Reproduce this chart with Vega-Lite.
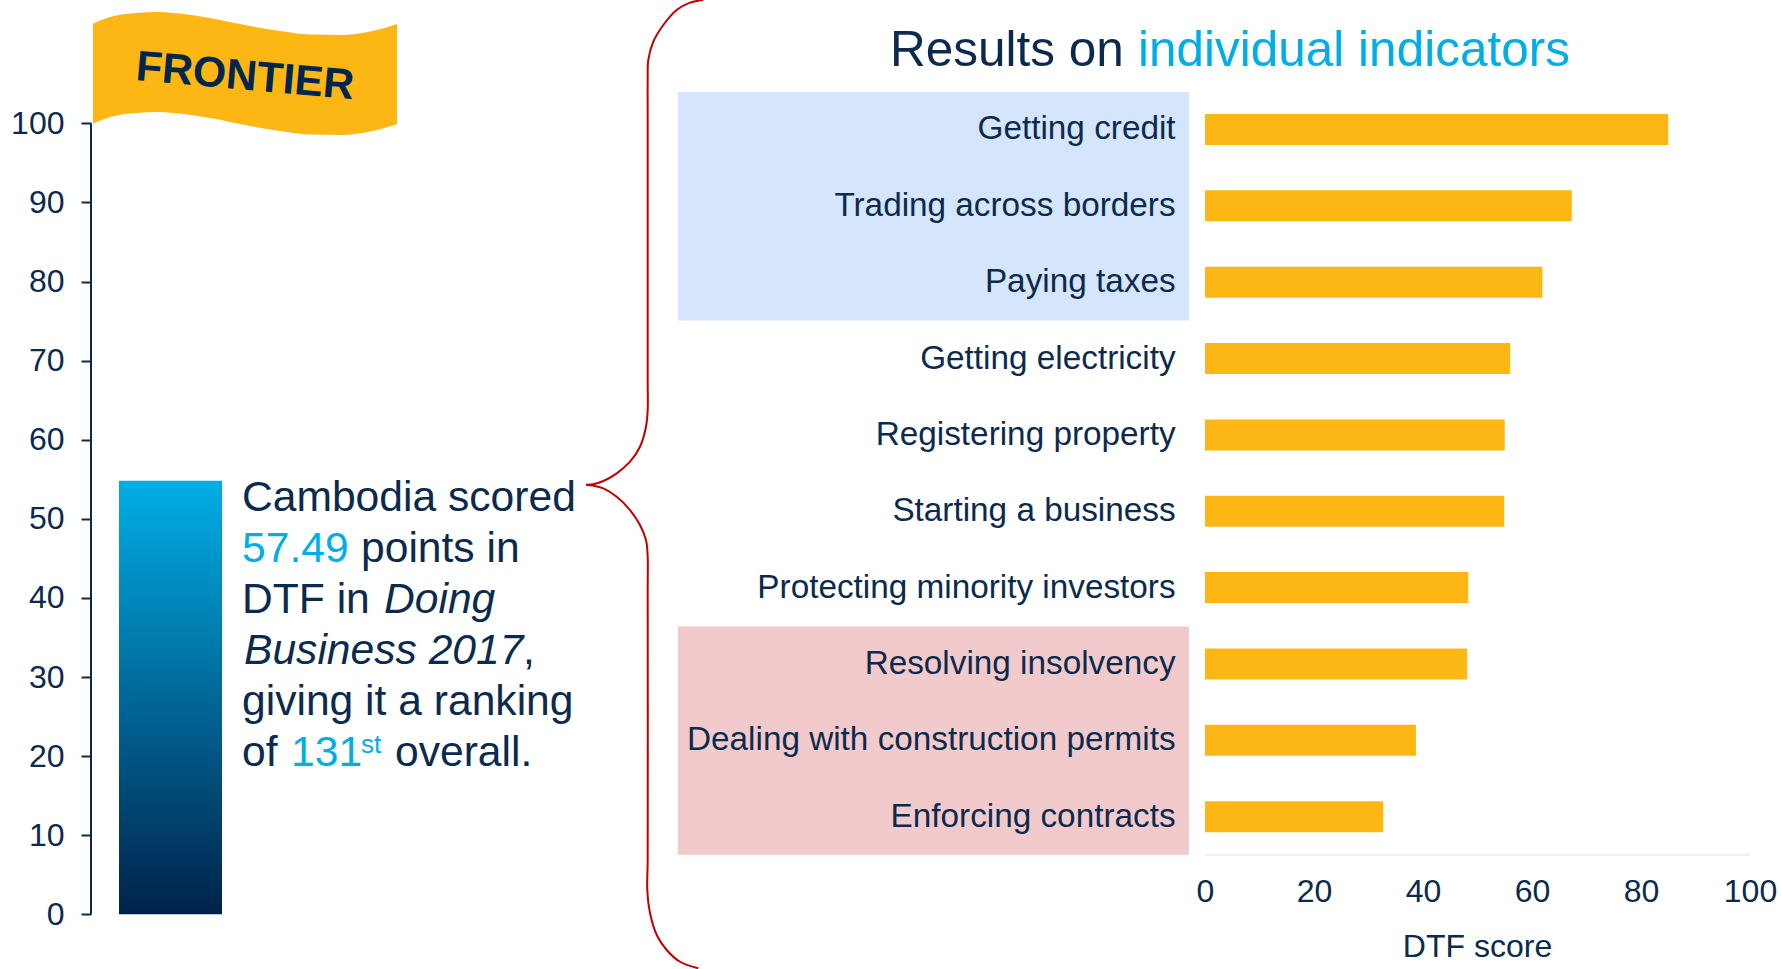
{
  "$schema": "https://vega.github.io/schema/vega-lite/v6.json",
  "padding": 0,
  "background": "white",
  "spacing": 0,
  "bounds": "flush",
  "config": {"view": {"stroke": null}, "font": "Liberation Sans", "concat": {"spacing": 0}},
  "datasets": {
    "flag": [
      {"pos": 93, "top": 112.6, "bottom": 99.96},
      {"pos": 110, "top": 113.44, "bottom": 100.8},
      {"pos": 130, "top": 113.88, "bottom": 101.24},
      {"pos": 155, "top": 114.07, "bottom": 101.43},
      {"pos": 180, "top": 113.88, "bottom": 101.24},
      {"pos": 210, "top": 113.31, "bottom": 100.67},
      {"pos": 250, "top": 112.3, "bottom": 99.66},
      {"pos": 280, "top": 111.67, "bottom": 99.03},
      {"pos": 310, "top": 111.23, "bottom": 98.59},
      {"pos": 340, "top": 111.17, "bottom": 98.53},
      {"pos": 370, "top": 111.6, "bottom": 98.96},
      {"pos": 397, "top": 112.56, "bottom": 99.92}
    ],
    "scores": [
      {"indicator": "Getting credit", "rank": 1, "score": 85},
      {"indicator": "Trading across borders", "rank": 2, "score": 67.3},
      {"indicator": "Paying taxes", "rank": 3, "score": 61.9},
      {"indicator": "Getting electricity", "rank": 4, "score": 56},
      {"indicator": "Registering property", "rank": 5, "score": 55},
      {"indicator": "Starting a business", "rank": 6, "score": 54.9},
      {"indicator": "Protecting minority investors", "rank": 7, "score": 48.3},
      {"indicator": "Resolving insolvency", "rank": 8, "score": 48.1},
      {"indicator": "Dealing with construction permits", "rank": 9, "score": 38.7},
      {"indicator": "Enforcing contracts", "rank": 10, "score": 32.7}
    ],
    "brace": [
      {"part": "upper", "n": 1, "bx": -92.06, "br": -0.696},
      {"part": "upper", "n": 2, "bx": -94.5, "br": -0.661},
      {"part": "upper", "n": 3, "bx": -96.94, "br": -0.565},
      {"part": "upper", "n": 4, "bx": -99.39, "br": -0.369},
      {"part": "upper", "n": 5, "bx": -101.23, "br": -0.15},
      {"part": "upper", "n": 6, "bx": -102.15, "br": 0.09},
      {"part": "upper", "n": 7, "bx": -102.26, "br": 0.352},
      {"part": "upper", "n": 8, "bx": -102.26, "br": 0.876},
      {"part": "upper", "n": 9, "bx": -102.26, "br": 4.281},
      {"part": "upper", "n": 10, "bx": -102.26, "br": 4.674},
      {"part": "upper", "n": 11, "bx": -102.57, "br": 4.893},
      {"part": "upper", "n": 12, "bx": -103.67, "br": 5.155},
      {"part": "upper", "n": 13, "bx": -105.5, "br": 5.351},
      {"part": "upper", "n": 14, "bx": -107.94, "br": 5.503},
      {"part": "upper", "n": 15, "bx": -110.4, "br": 5.604},
      {"part": "upper", "n": 16, "bx": -112.3, "br": 5.647},
      {"part": "upper", "n": 17, "bx": -113.58, "br": 5.652},
      {"part": "lower", "n": 1, "bx": -113.58, "br": 5.652},
      {"part": "lower", "n": 2, "bx": -112.3, "br": 5.663},
      {"part": "lower", "n": 3, "bx": -110.4, "br": 5.7},
      {"part": "lower", "n": 4, "bx": -107.94, "br": 5.81},
      {"part": "lower", "n": 5, "bx": -105.5, "br": 5.984},
      {"part": "lower", "n": 6, "bx": -103.67, "br": 6.18},
      {"part": "lower", "n": 7, "bx": -102.57, "br": 6.377},
      {"part": "lower", "n": 8, "bx": -102.26, "br": 6.595},
      {"part": "lower", "n": 9, "bx": -102.26, "br": 7.031},
      {"part": "lower", "n": 10, "bx": -102.26, "br": 10.568},
      {"part": "lower", "n": 11, "bx": -102.33, "br": 10.961},
      {"part": "lower", "n": 12, "bx": -101.83, "br": 11.262},
      {"part": "lower", "n": 13, "bx": -100.6, "br": 11.55},
      {"part": "lower", "n": 14, "bx": -98.77, "br": 11.746},
      {"part": "lower", "n": 15, "bx": -96.33, "br": 11.9},
      {"part": "lower", "n": 16, "bx": -92.97, "br": 11.986}
    ]
  },
  "hconcat": [
    {
      "width": 580,
      "height": 969,
      "layer": [
        {
          "data": {"name": "flag"},
          "mark": {"type": "area", "color": "#FDB714", "interpolate": "monotone"},
          "encoding": {
            "x": {"field": "pos", "type": "quantitative", "scale": {"domain": [0, 580], "nice": false, "zero": false}, "axis": null},
            "y": {"field": "top", "type": "quantitative", "scale": {"domain": [-6.91, 115.59], "nice": false, "zero": false},
              "axis": {"values": [0,10,20,30,40,50,60,70,80,90,100], "title": null, "domain": false, "grid": false, "offset": -91, "tickSize": 10, "tickWidth": 2, "tickColor": "#0B2A4E", "labelFontSize": 32, "labelColor": "#0B2A4E", "labelPadding": 17, "labelFont": "Liberation Sans"}},
            "y2": {"field": "bottom"}
          }
        },
        {
          "data": {"values": [{"pos": 245, "value": 105.9, "label": "FRONTIER"}]},
          "mark": {"type": "text", "font": "Liberation Sans", "fontWeight": "bold", "fontSize": 42.8, "angle": 5, "color": "#00264D", "align": "center", "baseline": "middle"},
          "encoding": {
            "x": {"field": "pos", "type": "quantitative"},
            "y": {"field": "value", "type": "quantitative"},
            "text": {"field": "label"}
          }
        },
        {
          "data": {"values": [{"pos": 91, "from": 0, "to": 100}]},
          "mark": {"type": "rule", "color": "#0B2A4E", "strokeWidth": 2},
          "encoding": {
            "x": {"field": "pos", "type": "quantitative"},
            "y": {"field": "from", "type": "quantitative"},
            "y2": {"field": "to"}
          }
        },
        {
          "data": {"values": [{"pos": 119, "pos2": 222, "from": 0, "to": 54.8}]},
          "mark": {"type": "rect", "color": {"gradient": "linear", "x1": 0, "y1": 0, "x2": 0, "y2": 1, "stops": [{"offset": 0, "color": "#00AEE6"}, {"offset": 1, "color": "#00224A"}]}},
          "encoding": {
            "x": {"field": "pos", "type": "quantitative"},
            "x2": {"field": "pos2"},
            "y": {"field": "to", "type": "quantitative"},
            "y2": {"field": "from"}
          }
        },
        {
          "data": {"values": [
            {"pos": 242, "value": 51.0, "label": "Cambodia scored"},
            {"pos": 361, "value": 44.54, "label": "points in"},
            {"pos": 242, "value": 38.09, "label": "DTF in"},
            {"pos": 523, "value": 31.64, "label": ","},
            {"pos": 242, "value": 25.2, "label": "giving it a ranking"},
            {"pos": 242, "value": 18.75, "label": "of"},
            {"pos": 395, "value": 18.75, "label": "overall."}
          ]},
          "mark": {"type": "text", "font": "Liberation Sans", "fontSize": 42.6, "color": "#0B2A4E", "align": "left", "baseline": "alphabetic"},
          "encoding": {"x": {"field": "pos", "type": "quantitative"}, "y": {"field": "value", "type": "quantitative"}, "text": {"field": "label"}}
        },
        {
          "data": {"values": [
            {"pos": 384, "value": 38.09, "label": "Doing"},
            {"pos": 244, "value": 31.64, "label": "Business 2017"}
          ]},
          "mark": {"type": "text", "font": "Liberation Sans", "fontStyle": "italic", "fontSize": 42.6, "color": "#0B2A4E", "align": "left", "baseline": "alphabetic"},
          "encoding": {"x": {"field": "pos", "type": "quantitative"}, "y": {"field": "value", "type": "quantitative"}, "text": {"field": "label"}}
        },
        {
          "data": {"values": [
            {"pos": 242, "value": 44.54, "label": "57.49"},
            {"pos": 291, "value": 18.75, "label": "131"}
          ]},
          "mark": {"type": "text", "font": "Liberation Sans", "fontSize": 42.6, "color": "#00AEE6", "align": "left", "baseline": "alphabetic"},
          "encoding": {"x": {"field": "pos", "type": "quantitative"}, "y": {"field": "value", "type": "quantitative"}, "text": {"field": "label"}}
        },
        {
          "data": {"values": [{"pos": 361, "value": 20.39, "label": "st"}]},
          "mark": {"type": "text", "font": "Liberation Sans", "fontSize": 26, "color": "#00AEE6", "align": "left", "baseline": "alphabetic"},
          "encoding": {"x": {"field": "pos", "type": "quantitative"}, "y": {"field": "value", "type": "quantitative"}, "text": {"field": "label"}}
        }
      ]
    },
    {
      "width": 1201,
      "height": 969,
      "layer": [
        {
          "data": {"values": [
            {"group": "strongest", "left": -96.7, "right": -2.94, "from": 0.51, "to": 3.5},
            {"group": "weakest", "left": -96.7, "right": -2.94, "from": 7.51, "to": 10.5}
          ]},
          "mark": {"type": "rect"},
          "encoding": {
            "x": {"field": "left", "type": "quantitative", "scale": {"domain": [-114.68, 105.69], "padding": 0, "nice": false, "zero": false},
              "axis": {"values": [0,20,40,60,80,100], "title": "DTF score", "orient": "bottom", "domain": false, "ticks": false, "grid": false, "offset": -114, "labelFontSize": 32, "labelColor": "#0B2A4E", "labelPadding": 21, "labelFont": "Liberation Sans", "titleFont": "Liberation Sans", "titleFontSize": 32, "titleFontWeight": "normal", "titleColor": "#0B2A4E", "titleX": 897, "titleY": 101, "titleAlign": "center", "titleBaseline": "alphabetic"}},
            "x2": {"field": "right"},
            "y": {"field": "from", "type": "quantitative", "scale": {"domain": [-0.696, 11.995], "padding": 0, "reverse": true, "nice": false, "zero": false}, "axis": null},
            "y2": {"field": "to"},
            "color": {"field": "group", "type": "nominal", "scale": {"domain": ["strongest", "weakest"], "range": ["#D4E5FC", "#F2CACB"]}, "legend": null}
          }
        },
        {
          "data": {"name": "scores"},
          "mark": {"type": "bar", "orient": "horizontal", "size": 31, "color": "#FDB714"},
          "encoding": {
            "x": {"field": "score", "type": "quantitative"},
            "y": {"field": "rank", "type": "quantitative"}
          }
        },
        {
          "data": {"values": [{"from": 0, "to": 100, "rank": 10.5}]},
          "mark": {"type": "rule", "color": "#EEEEEE", "strokeWidth": 2},
          "encoding": {
            "x": {"field": "from", "type": "quantitative"},
            "x2": {"field": "to"},
            "y": {"field": "rank", "type": "quantitative"}
          }
        },
        {
          "data": {"name": "scores"},
          "mark": {"type": "text", "font": "Liberation Sans", "fontSize": 33.3, "color": "#0B2A4E", "align": "right", "baseline": "middle"},
          "encoding": {
            "x": {"datum": -5.4},
            "y": {"field": "rank", "type": "quantitative"},
            "text": {"field": "indicator"}
          }
        },
        {
          "data": {"values": [
            {"at": -57.8, "rank": 0.168, "label": "Results on", "tone": "navy"},
            {"at": -12.3, "rank": 0.168, "label": "individual indicators", "tone": "blue"}
          ]},
          "mark": {"type": "text", "font": "Liberation Sans", "fontSize": 49.5, "align": "left", "baseline": "alphabetic"},
          "encoding": {
            "x": {"field": "at", "type": "quantitative"},
            "y": {"field": "rank", "type": "quantitative"},
            "text": {"field": "label"},
            "color": {"field": "tone", "type": "nominal", "scale": {"domain": ["navy", "blue"], "range": ["#0B2A4E", "#00AEE6"]}, "legend": null}
          }
        },
        {
          "data": {"name": "brace"},
          "mark": {"type": "line", "stroke": "#C00000", "strokeWidth": 2, "interpolate": "catmull-rom", "clip": true},
          "encoding": {
            "x": {"field": "bx", "type": "quantitative"},
            "y": {"field": "br", "type": "quantitative"},
            "detail": {"field": "part"},
            "order": {"field": "n", "type": "quantitative"}
          }
        }
      ],
      "resolve": {"scale": {"color": "independent"}}
    }
  ]
}
